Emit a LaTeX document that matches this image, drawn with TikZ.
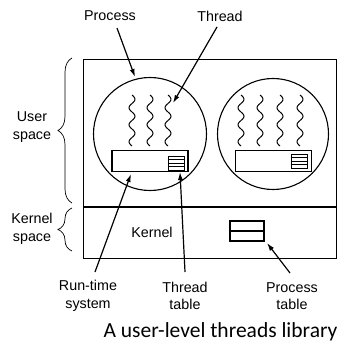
\documentclass[tikz,border=0pt]{standalone}
\usepackage{fontspec}
\setmainfont{Liberation Sans}
\newfontfamily\capfont{Carlito}
\usetikzlibrary{arrows.meta,decorations.pathreplacing,calc}
\tikzset{
  lbl/.style={align=center, inner sep=0pt, font=\fontsize{14.3}{17.5}\selectfont},
  conn/.style={-{Latex[length=8pt,width=5pt]}, line width=1.2pt},
  proc/.style={draw, circle, line width=1.1pt, minimum size=113pt, inner sep=0pt},
  tbl/.style={draw, line width=1.1pt, inner sep=0pt, minimum width=76pt, minimum height=21pt},
  stbl/.style={draw, line width=0.9pt, inner sep=0pt, minimum width=16pt, minimum height=14pt},
  wig/.style={line width=1pt},
  brc/.style={decorate, decoration={brace, amplitude=14pt}, line width=0.7pt},
}
\newcommand{\wiggle}[1]{\draw[wig] plot[domain=0:51, samples=80, smooth] ({#1+3*sin(\x*21.1765)}, {95+\x});}
\begin{document}
\begin{tikzpicture}[x=1pt, y=-1pt]
\useasboundingbox (0,0) rectangle (343,345);
% outer box
\node[draw, line width=1.2pt, minimum width=253pt, minimum height=199pt, inner sep=0pt, anchor=north west] (box) at (83,59) {};
\coordinate (divy) at (0,207);
\draw[line width=1.2pt] (box.west |- divy) -- (box.east |- divy);
% processes
\node[proc] (c1) at (150,134) {};
\node[proc, minimum size=111pt] (c2) at (273,134) {};
\foreach \xx in {132,150,168} {\wiggle{\xx}}
\foreach \xx in {241,260,280,300} {\wiggle{\xx}}
% thread tables
\node[tbl] (t1) at (150,161) {};
\node[stbl] (s1) at (176,163) {};
\foreach \k in {1,2,3} {\draw[line width=0.9pt] ($(s1.north west)!\k/4!(s1.south west)$) -- ($(s1.north east)!\k/4!(s1.south east)$);}
\node[tbl] (t2) at (273.5,161) {};
\node[stbl] (s2) at (299,161) {};
\foreach \k in {1,2,3} {\draw[line width=0.9pt] ($(s2.north west)!\k/4!(s2.south west)$) -- ($(s2.north east)!\k/4!(s2.south east)$);}
% kernel
\node[lbl] (kern) at (152,232) {Kernel};
\node[draw, line width=1.1pt, inner sep=0pt, minimum width=34pt, minimum height=20pt] (ptab) at (247,231) {};
\draw[line width=1.1pt] (ptab.west) -- (ptab.east);
% braces and side labels
\draw[brc] (72,203) -- (72,58);
\draw[brc] (72,251) -- (72,208);
\node[lbl] (us) at (32,127) {User\\space};
\node[lbl] (ks) at (32,229) {Kernel\\space};
% top labels
\node[lbl] (lproc) at (110,16) {Process};
\node[lbl] (lthr) at (220,16) {Thread};
% bottom labels
\node[lbl] (lrts) at (88,296) {Run-time\\system};
\node[lbl] (ltt) at (185,296) {Thread\\table};
\node[lbl] (lpt) at (292,296) {Process\\table};
% caption
\node[inner sep=0pt, font=\capfont\fontsize{21.5}{24}\selectfont] (cap) at (220.5,332) {A user-level threads library};
% arrow endpoints
\coordinate (a1s) at (117,28);  \coordinate (a1e) at (135,77);
\coordinate (a2s) at (217,27);  \coordinate (a2e) at (173,103);
\coordinate (a3s) at (95,272);  \coordinate (a3e) at (131,174);
\coordinate (a4s) at (185,272); \coordinate (a4e) at (180,172);
\coordinate (a5s) at (290,273); \coordinate (a5e) at (267,243);
\draw[conn] (a1s) -- (a1e);
\draw[conn] (a2s) -- (a2e);
\draw[conn] (a3s) -- (a3e);
\draw[conn] (a4s) -- (a4e);
\draw[conn] (a5s) -- (a5e);
\end{tikzpicture}
\end{document}
